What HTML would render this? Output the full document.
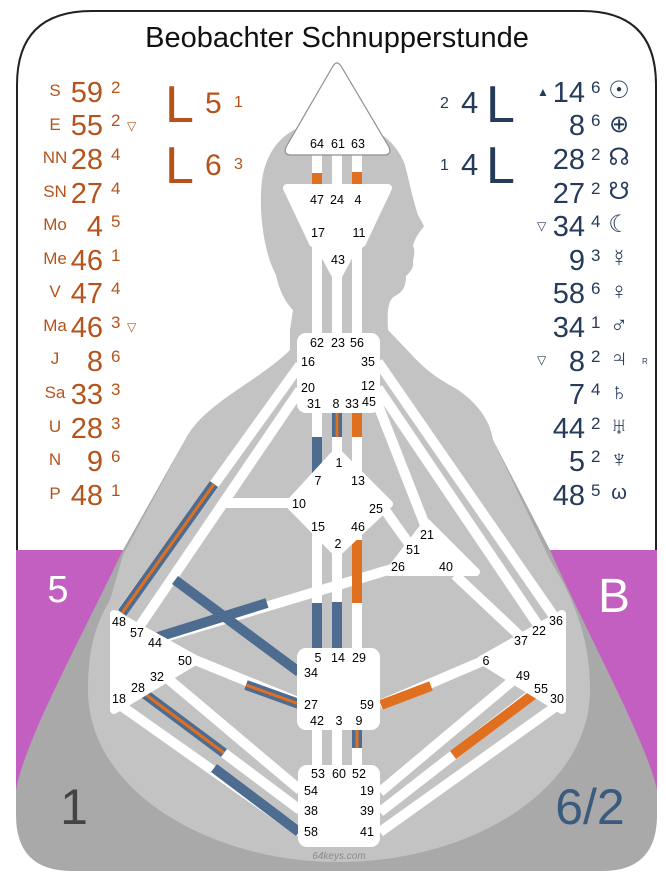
<!DOCTYPE html>
<html><head><meta charset="utf-8"><style>
html,body{margin:0;padding:0;background:#fff;}
svg{display:block;}
text{font-family:"Liberation Sans","DejaVu Sans",sans-serif;}
.o{fill:#b5531b;}
.n{fill:#263a5a;}
.g text{font-size:12.5px;fill:#000;text-anchor:middle;}
</style></head><body>
<svg width="666" height="877" viewBox="0 0 666 877" xmlns="http://www.w3.org/2000/svg">
<rect x="0" y="0" width="666" height="877" fill="#fff"/>
<!-- frame -->
<path d="M17,560 L17,85 Q17,11 92,11 L582,11 Q656,11 656,85 L656,560" fill="none" stroke="#222" stroke-width="2"/>
<!-- purple bands -->
<rect x="16" y="550" width="111" height="250" fill="#c35fc0"/>
<rect x="545" y="550" width="112" height="250" fill="#c35fc0"/>
<!-- dark body trapezoid -->
<path d="M185,440 L123,550 C80,640 25,740 16,790 L16,815 Q16,871 72,871 L602,871 Q657,871 657,815 L657,790 C646,740 590,640 550,550 L493,440 Z" fill="#a9a9a9"/>
<!-- light body silhouette -->
<path d="M290,330 L293,310 C283,300 278,285 276,275 C265,255 258,215 262,180 C268,140 295,122 330,121 C370,121 395,138 405,165 C410,185 413,200 418,215 L424,226 C420,232 415,237 413,246 C416,252 413,258 413,262 C414,268 410,272 406,276 C406,286 403,292 395,296 C388,300 387,310 388,330 L410,353 C425,370 440,380 455,388 C477,402 490,420 493,440 L550,560 C575,600 590,640 590,690 C590,790 470,862 339,862 C208,862 88,790 88,690 C88,650 95,625 110,600 L123,555 L185,440 C195,420 215,405 240,388 C262,373 278,362 290,350 Z" fill="#c3c3c3"/>

<!-- channels: white base -->
<g stroke="#fff" stroke-width="10" fill="none">
<line x1="317" y1="150" x2="317" y2="192"/>
<line x1="337" y1="150" x2="337" y2="192"/>
<line x1="357" y1="150" x2="357" y2="192"/>
<line x1="317" y1="235" x2="317" y2="340"/>
<line x1="337" y1="260" x2="337" y2="340"/>
<line x1="357" y1="235" x2="357" y2="340"/>
<line x1="317" y1="410" x2="317" y2="485"/>
<line x1="337" y1="410" x2="337" y2="460"/>
<line x1="357" y1="410" x2="357" y2="485"/>
<line x1="317" y1="530" x2="317" y2="655"/>
<line x1="337" y1="540" x2="337" y2="655"/>
<line x1="357" y1="530" x2="357" y2="655"/>
<line x1="317" y1="725" x2="317" y2="772"/>
<line x1="337" y1="725" x2="337" y2="772"/>
<line x1="357" y1="725" x2="357" y2="772"/>
<line x1="300" y1="365" x2="118" y2="618"/>
<line x1="300" y1="390" x2="137" y2="630"/>
<line x1="292" y1="503" x2="222" y2="503"/>
<line x1="395" y1="568" x2="155" y2="640"/>
<line x1="195" y1="660" x2="298" y2="702"/>
<line x1="160" y1="672" x2="300" y2="790"/>
<line x1="140" y1="690" x2="300" y2="810"/>
<line x1="120" y1="705" x2="300" y2="832"/>
<line x1="378" y1="362" x2="555" y2="618"/>
<line x1="378" y1="388" x2="540" y2="628"/>
<line x1="376" y1="400" x2="425" y2="525"/>
<line x1="385" y1="510" x2="412" y2="548"/>
<line x1="455" y1="575" x2="522" y2="638"/>
<line x1="380" y1="705" x2="485" y2="660"/>
<line x1="380" y1="792" x2="517" y2="677"/>
<line x1="380" y1="812" x2="537" y2="690"/>
<line x1="380" y1="832" x2="555" y2="707"/>
</g>
<!-- coloured channels -->
<g stroke-width="10" fill="none">
<line x1="317" y1="173" x2="317" y2="188" stroke="#e07020"/>
<line x1="357" y1="172" x2="357" y2="188" stroke="#e07020"/>
<line x1="317" y1="437" x2="317" y2="475" stroke="#4d6c90"/>
<line x1="337" y1="413" x2="337" y2="437" stroke="#4d6c90"/>
<line x1="337" y1="413" x2="337" y2="437" stroke="#e07020" stroke-width="3"/>
<line x1="357" y1="413" x2="357" y2="437" stroke="#e07020"/>
<line x1="317" y1="603" x2="317" y2="650" stroke="#4d6c90"/>
<line x1="337" y1="602" x2="337" y2="650" stroke="#4d6c90"/>
<line x1="357" y1="540" x2="357" y2="603" stroke="#e07020"/>
<line x1="357" y1="730" x2="357" y2="748" stroke="#4d6c90"/>
<line x1="357" y1="730" x2="357" y2="748" stroke="#e07020" stroke-width="3"/>
<line x1="214" y1="484" x2="122" y2="613" stroke="#4d6c90"/>
<line x1="214" y1="484" x2="122" y2="613" stroke="#e07020" stroke-width="3"/>
<line x1="175" y1="580" x2="299" y2="672" stroke="#4d6c90"/>
<line x1="267" y1="603" x2="158" y2="637" stroke="#4d6c90"/>
<line x1="246" y1="685" x2="299" y2="704" stroke="#4d6c90"/>
<line x1="246" y1="685" x2="299" y2="704" stroke="#e07020" stroke-width="3"/>
<line x1="145" y1="694" x2="224" y2="753" stroke="#4d6c90"/>
<line x1="145" y1="694" x2="224" y2="753" stroke="#e07020" stroke-width="3"/>
<line x1="214" y1="768" x2="299" y2="832" stroke="#4d6c90"/>
<line x1="381" y1="705" x2="431" y2="686" stroke="#e07020"/>
<line x1="453" y1="755" x2="534" y2="694" stroke="#e07020"/>
</g>

<!-- centers -->
<g fill="#fff" stroke="#fff" stroke-linejoin="round" stroke-width="8">
<polygon points="287,188 388,188 362,243 352,250 337,278 322,250 313,243"/>
<polygon points="337,452 389,504 337,553 289,504"/>
<polygon points="427,523 476,572 389,572"/>
<polygon points="114,614 197,660 114,710"/>
<polygon points="562,614 562,710 481,660"/>
</g>
<path d="M333,66 Q337,60 341,66 L389,147 Q392,155 384,155 L291,155 Q283,155 286,147 Z" fill="#fff" stroke="#8f8f8f" stroke-width="1.2" stroke-linejoin="round"/>
<rect x="297" y="333" width="83" height="80" rx="9" fill="#fff"/>
<rect x="297" y="648" width="83" height="82" rx="9" fill="#fff"/>
<rect x="298" y="765" width="82" height="82" rx="9" fill="#fff"/>

<!-- gate labels -->
<g class="g">
<text x="317" y="148">64</text><text x="338" y="148">61</text><text x="358" y="148">63</text>
<text x="317" y="204">47</text><text x="337" y="204">24</text><text x="358" y="204">4</text>
<text x="318" y="237">17</text><text x="359" y="237">11</text>
<text x="338" y="264">43</text>
<text x="317" y="347">62</text><text x="338" y="347">23</text><text x="357" y="347">56</text>
<text x="308" y="366">16</text><text x="368" y="366">35</text>
<text x="308" y="392">20</text><text x="368" y="390">12</text>
<text x="314" y="408">31</text><text x="336" y="408">8</text><text x="352" y="408">33</text><text x="369" y="406">45</text>
<text x="339" y="467">1</text><text x="318" y="485">7</text><text x="358" y="485">13</text>
<text x="299" y="508">10</text><text x="376" y="513">25</text>
<text x="318" y="531">15</text><text x="358" y="531">46</text><text x="338" y="548">2</text>
<text x="427" y="539">21</text><text x="413" y="554">51</text><text x="398" y="571">26</text><text x="446" y="571">40</text>
<text x="318" y="662">5</text><text x="338" y="662">14</text><text x="359" y="662">29</text>
<text x="311" y="677">34</text><text x="311" y="709">27</text><text x="367" y="709">59</text>
<text x="317" y="725">42</text><text x="339" y="725">3</text><text x="359" y="725">9</text>
<text x="318" y="778">53</text><text x="339" y="778">60</text><text x="359" y="778">52</text>
<text x="311" y="795">54</text><text x="367" y="795">19</text>
<text x="311" y="815">38</text><text x="367" y="815">39</text>
<text x="311" y="836">58</text><text x="367" y="836">41</text>
<text x="119" y="626">48</text><text x="137" y="637">57</text><text x="155" y="647">44</text>
<text x="185" y="665">50</text><text x="157" y="681">32</text><text x="138" y="692">28</text><text x="119" y="703">18</text>
<text x="556" y="625">36</text><text x="539" y="635">22</text><text x="521" y="645">37</text>
<text x="486" y="665">6</text><text x="523" y="680">49</text><text x="541" y="693">55</text><text x="557" y="703">30</text>
</g>
<text x="339" y="859" font-size="10" font-style="italic" fill="#8a8a8a" text-anchor="middle">64keys.com</text>

<!-- title -->
<text x="337" y="47" font-size="29" fill="#111" text-anchor="middle">Beobachter Schnupperstunde</text>

<!-- left column -->
<g class="o">
<g font-size="17" text-anchor="middle">
<text x="55" y="96">S</text><text x="55" y="130">E</text><text x="55" y="163">NN</text><text x="55" y="197">SN</text>
<text x="55" y="230">Mo</text><text x="55" y="264">Me</text><text x="55" y="297">V</text><text x="55" y="331">Ma</text>
<text x="55" y="364">J</text><text x="55" y="398">Sa</text><text x="55" y="432">U</text><text x="55" y="465">N</text><text x="55" y="499">P</text>
</g>
<g font-size="29" text-anchor="end">
<text x="103" y="102">59</text><text x="103" y="135">55</text><text x="103" y="169">28</text><text x="103" y="203">27</text>
<text x="103" y="236">4</text><text x="103" y="270">46</text><text x="103" y="303">47</text><text x="103" y="337">46</text>
<text x="103" y="371">8</text><text x="103" y="404">33</text><text x="103" y="438">28</text><text x="103" y="471">9</text><text x="103" y="505">48</text>
</g>
<g font-size="17">
<text x="111" y="93">2</text><text x="111" y="126">2</text><text x="111" y="160">4</text><text x="111" y="194">4</text>
<text x="111" y="227">5</text><text x="111" y="261">1</text><text x="111" y="294">4</text><text x="111" y="328">3</text>
<text x="111" y="362">6</text><text x="111" y="395">3</text><text x="111" y="429">3</text><text x="111" y="462">6</text><text x="111" y="496">1</text>
</g>
<g font-size="12"><text x="127" y="130">▽</text><text x="127" y="331">▽</text></g>
<g font-size="52"><text x="165" y="122">L</text><text x="165" y="183">L</text></g>
<g font-size="30"><text x="205" y="113">5</text><text x="205" y="175">6</text></g>
<g font-size="16"><text x="234" y="107">1</text><text x="234" y="169">3</text></g>
</g>

<!-- right column -->
<g class="n">
<g font-size="16"><text x="440" y="108">2</text><text x="440" y="170">1</text></g>
<g font-size="31"><text x="461" y="113">4</text><text x="461" y="175">4</text></g>
<g font-size="52"><text x="486" y="122">L</text><text x="486" y="183">L</text></g>
<g font-size="29" text-anchor="end">
<text x="585" y="102">14</text><text x="585" y="135">8</text><text x="585" y="169">28</text><text x="585" y="203">27</text>
<text x="585" y="236">34</text><text x="585" y="270">9</text><text x="585" y="303">58</text><text x="585" y="337">34</text>
<text x="585" y="371">8</text><text x="585" y="404">7</text><text x="585" y="438">44</text><text x="585" y="471">5</text><text x="585" y="505">48</text>
</g>
<g font-size="17">
<text x="591" y="93">6</text><text x="591" y="126">6</text><text x="591" y="160">2</text><text x="591" y="194">2</text>
<text x="591" y="227">4</text><text x="591" y="261">3</text><text x="591" y="294">6</text><text x="591" y="328">1</text>
<text x="591" y="362">2</text><text x="591" y="395">4</text><text x="591" y="429">2</text><text x="591" y="462">2</text><text x="591" y="496">5</text>
</g>
<g font-size="24" text-anchor="middle" font-family="DejaVu Sans, sans-serif">
<text x="619" y="98">☉</text><text x="619" y="132">⊕</text><text x="619" y="165">☊</text><text x="619" y="199">☋</text>
<text x="619" y="232">☾</text><text x="619" y="266">☿</text><text x="619" y="299">♀</text><text x="619" y="333">♂</text>
<text x="619" y="366">♃</text><text x="619" y="400">♄</text><text x="619" y="434">♅</text><text x="619" y="467">♆</text><text x="619" y="499" font-size="20">ω</text>
</g>
<g font-size="12"><text x="537" y="96">▲</text><text x="537" y="230">▽</text><text x="537" y="364">▽</text></g>
<text x="642" y="364" font-size="8">R</text>
</g>

<!-- corner labels -->
<text x="58" y="602" font-size="38" fill="#fff" text-anchor="middle">5</text>
<text x="614" y="612" font-size="48" fill="#fff" text-anchor="middle">B</text>
<text x="74" y="824" font-size="50" fill="#444" text-anchor="middle">1</text>
<text x="590" y="824" font-size="50" fill="#3a5a7e" text-anchor="middle">6/2</text>
</svg>
</body></html>
